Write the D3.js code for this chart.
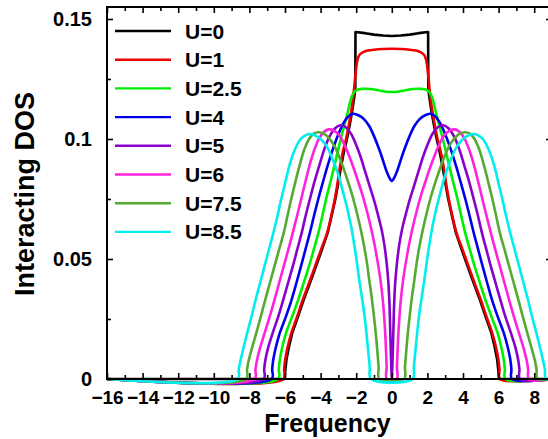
<!DOCTYPE html>
<html>
<head>
<meta charset="utf-8">
<script src="https://cdn.jsdelivr.net/npm/d3@7"></script>
<style>
  body { margin: 0; background: #fff; }
  svg { display: block; }
  text { font-family: Arial, "Liberation Sans", Helvetica, sans-serif; font-weight: bold; fill: #000; }
</style>
</head>
<body>
<svg id="chart" width="548" height="439"></svg>
<script>
// series labels and colours (legend order = draw order)
const labels = ['U=0', 'U=1', 'U=2.5', 'U=4', 'U=5', 'U=6', 'U=7.5', 'U=8.5'];
const colors = ['#000000', '#ee0000', '#00ee00', '#0000ee', '#8800cc', '#ff22dd', '#55aa33', '#00eeee'];

// ticks
const xMajor = [-16, -14, -12, -10, -8, -6, -4, -2, 0, 2, 4, 6, 8];
const xMinor = [-15, -13, -11, -9, -7, -5, -3, -1, 1, 3, 5, 7];
const yMajor = [0, 0.05, 0.1, 0.15];
const yMinor = [0.025, 0.075, 0.125];
const yLabels = ['0', '0.05', '0.1', '0.15'];

// [frequency, DOS]
const dosU0 = [[-16,0],[-6.02,0],[-5.98,0.004],[-5.92,0.008],[-5.79,0.013],[-5.6,0.019],[-5.27,0.026],[-4.95,0.033],[-4.6,0.04],[-4.26,0.047],[-3.92,0.054],[-3.6,0.061],[-3.38,0.068],[-3.17,0.075],[-3.0,0.082],[-2.84,0.089],[-2.68,0.095],[-2.52,0.1],[-2.36,0.106],[-2.22,0.112],[-2.1,0.118],[-2.05,0.121],[-2.04,0.1446],[-1.5,0.1441],[-1.0,0.1435],[-0.5,0.1431],[0,0.1429],[0.5,0.1431],[1.0,0.1435],[1.5,0.1441],[2.04,0.1446],[2.05,0.121],[2.1,0.118],[2.22,0.112],[2.36,0.106],[2.52,0.1],[2.68,0.095],[2.84,0.089],[3.0,0.082],[3.17,0.075],[3.38,0.068],[3.6,0.061],[3.92,0.054],[4.26,0.047],[4.6,0.04],[4.95,0.033],[5.27,0.026],[5.6,0.019],[5.79,0.013],[5.92,0.008],[5.98,0.004],[6.02,0],[9,0]];

const dosU1 = [[-16,0],[-6.08,0],[-6.05,0.004],[-5.99,0.008],[-5.86,0.013],[-5.65,0.019],[-5.32,0.026],[-5.0,0.033],[-4.65,0.04],[-4.31,0.047],[-3.97,0.054],[-3.63,0.061],[-3.4,0.068],[-3.2,0.075],[-3.04,0.082],[-2.9,0.089],[-2.74,0.095],[-2.57,0.1],[-2.41,0.106],[-2.27,0.112],[-2.16,0.118],[-2.08,0.124],[-2.01,0.129],[-1.93,0.133],[-1.8,0.1352],[-1.5,0.1366],[-1.0,0.1372],[-0.5,0.1375],[0,0.1376],[0.5,0.1375],[1.0,0.1372],[1.5,0.1366],[1.8,0.1352],[1.93,0.133],[2.01,0.129],[2.08,0.124],[2.16,0.118],[2.27,0.112],[2.41,0.106],[2.57,0.1],[2.74,0.095],[2.9,0.089],[3.04,0.082],[3.2,0.075],[3.4,0.068],[3.63,0.061],[3.97,0.054],[4.31,0.047],[4.65,0.04],[5.0,0.033],[5.32,0.026],[5.65,0.019],[5.86,0.013],[5.99,0.008],[6.05,0.004],[6.08,0],[9,0]];

const dosU25 = [[-16,0],[-6.38,0],[-6.35,0.004],[-6.29,0.008],[-6.16,0.013],[-5.95,0.019],[-5.6,0.026],[-5.26,0.033],[-4.95,0.04],[-4.65,0.047],[-4.38,0.054],[-4.12,0.061],[-3.9,0.068],[-3.69,0.075],[-3.45,0.082],[-3.22,0.089],[-3.0,0.096],[-2.8,0.102],[-2.62,0.107],[-2.45,0.112],[-2.3,0.1165],[-2.15,0.1192],[-1.95,0.1205],[-1.6,0.1209],[-1.2,0.1208],[-0.7,0.1202],[-0.3,0.1197],[0,0.1196],[0.3,0.1197],[0.7,0.1202],[1.2,0.1208],[1.6,0.1209],[1.95,0.1205],[2.15,0.1192],[2.3,0.1165],[2.45,0.112],[2.62,0.107],[2.8,0.102],[3.0,0.096],[3.22,0.089],[3.45,0.082],[3.69,0.075],[3.9,0.068],[4.12,0.061],[4.38,0.054],[4.65,0.047],[4.95,0.04],[5.26,0.033],[5.6,0.026],[5.95,0.019],[6.16,0.013],[6.29,0.008],[6.35,0.004],[6.38,0],[9,0]];

const dosU4 = [[-16,0],[-6.75,0],[-6.72,0.004],[-6.66,0.008],[-6.52,0.013],[-6.3,0.019],[-5.95,0.026],[-5.63,0.033],[-5.36,0.04],[-5.1,0.047],[-4.85,0.054],[-4.6,0.061],[-4.37,0.068],[-4.13,0.075],[-3.87,0.082],[-3.6,0.089],[-3.3,0.096],[-3.0,0.102],[-2.7,0.1068],[-2.4,0.1097],[-2.15,0.1105],[-1.85,0.1098],[-1.55,0.1082],[-1.27,0.1054],[-1.0,0.1012],[-0.71,0.0957],[-0.5,0.0912],[-0.33,0.0873],[-0.16,0.0842],[0,0.0825],[0.16,0.0842],[0.33,0.0873],[0.5,0.0912],[0.71,0.0957],[1.0,0.1012],[1.27,0.1054],[1.55,0.1082],[1.85,0.1098],[2.15,0.1105],[2.4,0.1097],[2.7,0.1068],[3.0,0.102],[3.3,0.096],[3.6,0.089],[3.87,0.082],[4.13,0.075],[4.37,0.068],[4.6,0.061],[4.85,0.054],[5.1,0.047],[5.36,0.04],[5.63,0.033],[5.95,0.026],[6.3,0.019],[6.52,0.013],[6.66,0.008],[6.72,0.004],[6.75,0],[9,0]];

const dosU5 = [[-16,0],[-7.2,0],[-7.17,0.004],[-7.1,0.008],[-6.95,0.013],[-6.7,0.019],[-6.38,0.026],[-6.1,0.033],[-5.83,0.04],[-5.56,0.047],[-5.31,0.054],[-5.06,0.061],[-4.84,0.068],[-4.6,0.075],[-4.35,0.082],[-4.07,0.089],[-3.78,0.096],[-3.48,0.1013],[-3.18,0.1045],[-2.9,0.1057],[-2.6,0.105],[-2.3,0.1023],[-2.0,0.0975],[-1.75,0.0925],[-1.5,0.0865],[-1.25,0.0805],[-1.0,0.0745],[-0.78,0.0685],[-0.58,0.0625],[-0.42,0.056],[-0.3,0.049],[-0.2,0.041],[-0.13,0.031],[-0.09,0.0205],[-0.05,0.01],[-0.02,0.003],[0,0],[0.02,0.003],[0.05,0.01],[0.09,0.0205],[0.13,0.031],[0.2,0.041],[0.3,0.049],[0.42,0.056],[0.58,0.0625],[0.78,0.0685],[1.0,0.0745],[1.25,0.0805],[1.5,0.0865],[1.75,0.0925],[2.0,0.0975],[2.3,0.1023],[2.6,0.105],[2.9,0.1057],[3.18,0.1045],[3.48,0.1013],[3.78,0.096],[4.07,0.089],[4.35,0.082],[4.6,0.075],[4.84,0.068],[5.06,0.061],[5.31,0.054],[5.56,0.047],[5.83,0.04],[6.1,0.033],[6.38,0.026],[6.7,0.019],[6.95,0.013],[7.1,0.008],[7.17,0.004],[7.2,0],[9,0]];

const dosU6 = [[-16,0],[-7.7,0],[-7.66,0.004],[-7.57,0.008],[-7.4,0.013],[-7.15,0.019],[-6.86,0.026],[-6.59,0.033],[-6.33,0.04],[-6.07,0.047],[-5.81,0.054],[-5.56,0.061],[-5.32,0.068],[-5.09,0.075],[-4.86,0.082],[-4.62,0.089],[-4.35,0.0955],[-4.08,0.1003],[-3.8,0.103],[-3.55,0.104],[-3.25,0.1035],[-2.95,0.1015],[-2.65,0.0975],[-2.4,0.093],[-2.15,0.088],[-1.9,0.0825],[-1.64,0.0765],[-1.4,0.07],[-1.17,0.063],[-0.97,0.056],[-0.8,0.049],[-0.64,0.0414],[-0.52,0.034],[-0.43,0.026],[-0.37,0.019],[-0.32,0.011],[-0.29,0.005],[-0.28,0],[0.28,0],[0.29,0.005],[0.32,0.011],[0.37,0.019],[0.43,0.026],[0.52,0.034],[0.64,0.0414],[0.8,0.049],[0.97,0.056],[1.17,0.063],[1.4,0.07],[1.64,0.0765],[1.9,0.0825],[2.15,0.088],[2.4,0.093],[2.65,0.0975],[2.95,0.1015],[3.25,0.1035],[3.55,0.104],[3.8,0.103],[4.08,0.1003],[4.35,0.0955],[4.62,0.089],[4.86,0.082],[5.09,0.075],[5.32,0.068],[5.56,0.061],[5.81,0.054],[6.07,0.047],[6.33,0.04],[6.59,0.033],[6.86,0.026],[7.15,0.019],[7.4,0.013],[7.57,0.008],[7.66,0.004],[7.7,0],[9,0]];

const dosU75 = [[-16,0],[-8.18,0],[-8.13,0.004],[-8.03,0.008],[-7.85,0.013],[-7.62,0.019],[-7.36,0.026],[-7.11,0.033],[-6.85,0.04],[-6.59,0.047],[-6.33,0.054],[-6.07,0.061],[-5.86,0.068],[-5.65,0.075],[-5.42,0.082],[-5.18,0.089],[-4.92,0.0955],[-4.65,0.1],[-4.38,0.1022],[-4.12,0.1028],[-3.82,0.1022],[-3.52,0.1003],[-3.22,0.097],[-2.95,0.0925],[-2.7,0.0875],[-2.45,0.082],[-2.2,0.076],[-1.97,0.0695],[-1.75,0.0625],[-1.56,0.0555],[-1.4,0.0485],[-1.27,0.0414],[-1.13,0.034],[-1.01,0.0265],[-0.9,0.019],[-0.81,0.0115],[-0.74,0.005],[-0.7,0],[0.7,0],[0.74,0.005],[0.81,0.0115],[0.9,0.019],[1.01,0.0265],[1.13,0.034],[1.27,0.0414],[1.4,0.0485],[1.56,0.0555],[1.75,0.0625],[1.97,0.0695],[2.2,0.076],[2.45,0.082],[2.7,0.0875],[2.95,0.0925],[3.22,0.097],[3.52,0.1003],[3.82,0.1022],[4.12,0.1028],[4.38,0.1022],[4.65,0.1],[4.92,0.0955],[5.18,0.089],[5.42,0.082],[5.65,0.075],[5.86,0.068],[6.07,0.061],[6.33,0.054],[6.59,0.047],[6.85,0.04],[7.11,0.033],[7.36,0.026],[7.62,0.019],[7.85,0.013],[8.03,0.008],[8.13,0.004],[8.18,0],[9,0]];

const dosU85 = [[-16,0],[-8.65,0],[-8.6,0.004],[-8.49,0.008],[-8.33,0.013],[-8.13,0.019],[-7.88,0.026],[-7.65,0.033],[-7.4,0.04],[-7.15,0.047],[-6.9,0.054],[-6.65,0.061],[-6.42,0.068],[-6.21,0.075],[-5.98,0.082],[-5.75,0.089],[-5.45,0.0955],[-5.15,0.0997],[-4.9,0.1013],[-4.7,0.102],[-4.35,0.1017],[-4.0,0.1],[-3.65,0.0968],[-3.32,0.0915],[-3.0,0.085],[-2.76,0.0785],[-2.5,0.071],[-2.29,0.0637],[-2.1,0.0555],[-1.95,0.048],[-1.83,0.0414],[-1.68,0.034],[-1.55,0.0274],[-1.43,0.0195],[-1.33,0.012],[-1.24,0.005],[-1.17,0],[1.17,0],[1.24,0.005],[1.33,0.012],[1.43,0.0195],[1.55,0.0274],[1.68,0.034],[1.83,0.0414],[1.95,0.048],[2.1,0.0555],[2.29,0.0637],[2.5,0.071],[2.76,0.0785],[3.0,0.085],[3.32,0.0915],[3.65,0.0968],[4.0,0.1],[4.35,0.1017],[4.7,0.102],[4.9,0.1013],[5.15,0.0997],[5.45,0.0955],[5.75,0.089],[5.98,0.082],[6.21,0.075],[6.42,0.068],[6.65,0.061],[6.9,0.054],[7.15,0.047],[7.4,0.04],[7.65,0.033],[7.88,0.026],[8.13,0.019],[8.33,0.013],[8.49,0.008],[8.6,0.004],[8.65,0],[9,0]];

const series = [dosU0, dosU1, dosU25, dosU4, dosU5, dosU6, dosU75, dosU85];

const svg = d3.select('#chart');
const margin = { left: 107, top: 7, right: 552, bottom: 379 };

const x = d3.scaleLinear().domain([-16, 9]).range([margin.left, margin.right]);
const y = d3.scaleLinear().domain([0, 0.155]).range([margin.bottom, margin.top]);

// curves
const line = d3.line()
	.x((d) => x(d[0]))
	.y((d) => y(d[1]))
	.curve(d3.curveCatmullRom.alpha(0.5));

const lineStraight = d3.line()
	.x((d) => x(d[0]))
	.y((d) => y(d[1]));

svg.append('g')
	.selectAll('path')
	.data(series)
	.enter()
	.append('path')
	.attr('d', (d, i) => (i === 0 ? lineStraight(d) : line(d)))
	.attr('fill', 'none')
	.attr('stroke', (d, i) => colors[i])
	.attr('stroke-width', 2.6)
	.attr('stroke-linejoin', 'round');

// frame + ticks
const tickStyle = (size) => (g) => {
	g.select('.domain').remove();
	g.selectAll('.tick line').attr('stroke', '#000').attr('stroke-width', 1.6);
	g.selectAll('.tick text').attr('font-size', size).attr('font-weight', 'bold').attr('font-family', 'Arial, "Liberation Sans", sans-serif');
};

svg.append('g')
	.attr('transform', `translate(0,${margin.bottom})`)
	.call(d3.axisBottom(x).tickValues(xMajor).tickSize(-6).tickPadding(12).tickFormat(d3.format('d')))
	.call(tickStyle(19));
svg.append('g')
	.attr('transform', `translate(0,${margin.bottom})`)
	.call(d3.axisBottom(x).tickValues(xMinor).tickSize(-4).tickFormat(''))
	.call(tickStyle(19));
svg.append('g')
	.attr('transform', `translate(0,${margin.top})`)
	.call(d3.axisTop(x).tickValues(xMajor).tickSize(-6).tickFormat(''))
	.call(tickStyle(19));
svg.append('g')
	.attr('transform', `translate(0,${margin.top})`)
	.call(d3.axisTop(x).tickValues(xMinor).tickSize(-4).tickFormat(''))
	.call(tickStyle(19));

svg.append('g')
	.attr('transform', `translate(${margin.left},0)`)
	.call(d3.axisLeft(y).tickValues(yMajor).tickSize(-6).tickPadding(15).tickFormat((d, i) => yLabels[i]))
	.call(tickStyle(20));
svg.append('g')
	.attr('transform', `translate(${margin.left},0)`)
	.call(d3.axisLeft(y).tickValues(yMinor).tickSize(-4).tickFormat(''))
	.call(tickStyle(20));
svg.append('g')
	.attr('transform', `translate(${margin.right},0)`)
	.call(d3.axisRight(y).tickValues(yMajor).tickSize(-6).tickFormat(''))
	.call(tickStyle(20));

svg.append('rect')
	.attr('x', margin.left)
	.attr('y', margin.top)
	.attr('width', margin.right - margin.left)
	.attr('height', margin.bottom - margin.top)
	.attr('fill', 'none')
	.attr('stroke', '#000')
	.attr('stroke-width', 2);

// legend
const legend = svg.append('g')
	.selectAll('g')
	.data(labels)
	.enter()
	.append('g')
	.attr('transform', (d, i) => `translate(0,${31 + i * 28.7})`);

legend.append('line')
	.attr('x1', 115)
	.attr('x2', 171)
	.attr('stroke', (d, i) => colors[i])
	.attr('stroke-width', 2.4);

legend.append('text')
	.attr('x', 185)
	.attr('dy', '0.36em')
	.attr('font-size', 21)
	.text((d) => d);

// axis titles
svg.append('text')
	.attr('x', (margin.left + margin.right) / 2 - 2)
	.attr('y', 432)
	.attr('text-anchor', 'middle')
	.attr('font-size', 25)
	.text('Frequency');

svg.append('text')
	.attr('transform', 'translate(34,194) rotate(-90)')
	.attr('text-anchor', 'middle')
	.attr('font-size', 27)
	.text('Interacting DOS');
</script>
</body>
</html>
